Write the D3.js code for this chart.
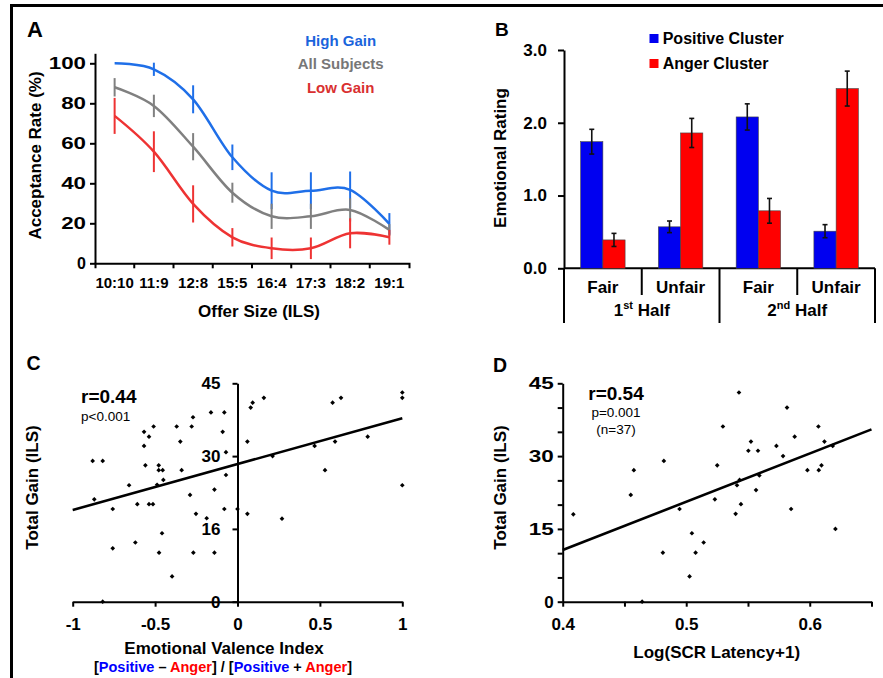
<!DOCTYPE html>
<html>
<head>
<meta charset="utf-8">
<script src="https://cdn.jsdelivr.net/npm/d3@7"></script>
<style>
body { margin: 0; background: #fff; }
svg text { font-family: "Liberation Sans", Arial, sans-serif; font-weight: bold; fill: #000; }
</style>
</head>
<body>
<div id="chart"></div>
<script>
// ---- panel A: acceptance rate by offer
var offers = ["10:10", "11:9", "12:8", "15:5", "16:4", "17:3", "18:2", "19:1"];
var highGain = [100, 97, 82, 53, 36.3, 36.3, 36.7, 19.7],
    highErr  = [0, 3.3, 7, 6.4, 9.2, 9.2, 9.2, 5.4];
var allSubj  = [88, 78.7, 58.3, 35.3, 23.5, 23.5, 26.7, 16.7],
    allErr   = [4.6, 5.6, 6.8, 5, 6.3, 6.3, 5.8, 2.9];
var lowGain  = [73.7, 55.8, 29.7, 13, 7.5, 7.5, 15, 13],
    lowErr   = [9, 10.2, 9.3, 4.6, 5.4, 5.4, 7.5, 3.7];
var seriesNames = ["High Gain", "All Subjects", "Low Gain"];

// ---- panel B: emotional ratings
var conditions = ["Fair", "Unfair", "Fair", "Unfair"];
var halves = [["1", "st"], ["2", "nd"]];
var positive = [1.74, 0.57, 2.08, 0.51],
    positiveErr = [0.17, 0.08, 0.18, 0.09];
var anger = [0.39, 1.86, 0.79, 2.47],
    angerErr = [0.09, 0.2, 0.17, 0.24];
var clusterNames = ["Positive Cluster", "Anger Cluster"];

// ---- panel C: valence index vs total gain
var valenceX = [-0.879, -0.818, -0.869, -0.757, -0.757, -0.818, -0.658, -0.608, -0.62, -0.567,
    -0.567, -0.559, -0.537, -0.537, -0.513, -0.509, -0.478, -0.478, -0.454, -0.488,
    -0.45, -0.458, -0.476, -0.397, -0.369, -0.347, -0.339, -0.278, -0.27, -0.288,
    -0.252, -0.268, -0.161, -0.187, -0.14, -0.14, -0.09, -0.08, -0.08, -0.07,
    -0.07, 0, 0.06, 0.06, 0.08, 0.092, 0.16, 0.213, 0.27, 0.468,
    0.531, 0.577, 0.592, 0.628, 0.79, 1, 1, 1];
var valenceY = [29, 29, 21.1, 19.1, 11, 0, 24, 20.1, 12.2, 35,
    32.1, 28.1, 34, 20.1, 20.1, 36.1, 28.1, 27.1, 27.1, 24.1,
    25.1, 14.1, 10.1, 5.2, 36.1, 33, 27.1, 36.1, 38, 22,
    18.1, 10.1, 39, 17.2, 23.1, 10.1, 35, 39, 19.1, 26.1,
    30.8, 19.1, 33, 18.1, 40, 41, 42, 30, 17.1, 32.1,
    27.1, 41, 33, 42, 34, 43.1, 42, 24];
var fitC = [[-1, 18.9], [1, 37.8]];

// ---- panel D: SCR latency vs total gain
var latencyX = [0.4086, 0.4551, 0.4576, 0.4643, 0.4811, 0.4819, 0.4946, 0.5027, 0.5046, 0.5076,
    0.5141, 0.5232, 0.5251, 0.5297, 0.54, 0.5411, 0.5427, 0.5432, 0.5443, 0.5503,
    0.5524, 0.5565, 0.5581, 0.5592, 0.573, 0.5784, 0.5816, 0.5849, 0.5878, 0.5981,
    0.607, 0.6073, 0.6095, 0.6119, 0.6186, 0.6208];
var latencyY = [18, 22, 27.1, 0, 10.1, 29, 19.1, 5.2, 14.1, 10.1,
    12.2, 21.1, 28.1, 36.1, 18.1, 24, 43.1, 25.1, 20.1, 31.1,
    33, 23, 31.1, 26, 32.1, 30, 40, 19.1, 34, 27.1,
    36.1, 27.1, 28.1, 33, 32.1, 15];
var fitD = [[0.4, 10.65], [0.65, 35.5]];

var blue = "#1f6fe8", gray = "#808080", red = "#ee3333";

var svg = d3.select("#chart").append("svg")
    .attr("width", 883)
    .attr("height", 678);

// frame lines
svg.append("line").attr("x1", 10).attr("x2", 883).attr("y1", 5.5).attr("y2", 5.5)
    .attr("stroke", "#000").attr("stroke-width", 3);
svg.append("line").attr("x1", 11.5).attr("x2", 11.5).attr("y1", 4).attr("y2", 678)
    .attr("stroke", "#000").attr("stroke-width", 3);

function styleAxis(g, size) {
    g.selectAll("path, line").attr("stroke", "#000").attr("stroke-width", 2);
    g.selectAll("text").attr("font-size", size).attr("fill", "#000");
    return g;
}

// the y tick numbers in the source are drawn wide
function widenLabels(g, perChar) {
    g.selectAll(".tick text").each(function() {
        var n = this.textContent.length;
        if (n > 1) d3.select(this).attr("textLength", n * perChar).attr("lengthAdjust", "spacingAndGlyphs");
    });
}

function panelLabel(txt, x, y, size) {
    svg.append("text").attr("x", x).attr("y", y).attr("font-size", size).text(txt);
}

function yTitle(txt, x, y, size) {
    svg.append("text")
        .attr("transform", "translate(" + x + "," + y + ") rotate(-90)")
        .attr("text-anchor", "middle")
        .attr("font-size", size)
        .text(txt);
}

/* ================= A ================= */
var xA = d3.scaleBand().domain(offers).range([95, 409]),
    yA = d3.scaleLinear().domain([0, 105]).range([263.3, 53.3]);

var axAy = styleAxis(svg.append("g")
    .attr("transform", "translate(95,0)")
    .call(d3.axisLeft(yA).tickValues(d3.range(0, 101, 20)).tickSize(5).tickSizeOuter(0).tickPadding(4)), 16);
widenLabels(axAy, 12.4);

var axA = svg.append("g")
    .attr("transform", "translate(0," + yA(0) + ")")
    .call(d3.axisBottom(xA).tickSizeInner(0).tickSizeOuter(5));
axA.selectAll(".tick text").attr("y", 25).attr("dy", null);
axA.selectAll(".edge").data(offers.slice(1)).enter().append("line")
    .attr("x1", function(d) { return xA(d); })
    .attr("x2", function(d) { return xA(d); })
    .attr("y1", 0).attr("y2", 5);
styleAxis(axA, 15);

var lineA = d3.line()
    .x(function(d, i) { return xA(offers[i]) + xA.bandwidth() / 2; })
    .y(function(d) { return yA(d); })
    .curve(d3.curveCardinal.tension(0));

[[highGain, highErr, blue], [allSubj, allErr, gray], [lowGain, lowErr, red]].forEach(function(s) {
    svg.append("path")
        .attr("d", lineA(s[0]))
        .attr("fill", "none")
        .attr("stroke", s[2])
        .attr("stroke-width", 2.5);
    svg.selectAll(null).data(s[0]).enter().append("line")
        .attr("x1", function(d, i) { return xA(offers[i]) + xA.bandwidth() / 2; })
        .attr("x2", function(d, i) { return xA(offers[i]) + xA.bandwidth() / 2; })
        .attr("y1", function(d, i) { return yA(d + s[1][i]); })
        .attr("y2", function(d, i) { return yA(d - s[1][i]); })
        .attr("stroke", s[2])
        .attr("stroke-width", 2);
});

svg.selectAll(".legA").data(seriesNames).enter().append("text")
    .attr("x", 340.7)
    .attr("y", function(d, i) { return 45.5 + i * 23.5; })
    .attr("text-anchor", "middle")
    .attr("font-size", 15)
    .style("fill", function(d, i) { return ["#1a64dc", "#777", "#d93030"][i]; })
    .text(function(d) { return d; });

panelLabel("A", 27, 37, 22);
yTitle("Acceptance Rate (%)", 41, 155.5, 17);
svg.append("text").attr("x", 259).attr("y", 316.5).attr("text-anchor", "middle")
    .attr("font-size", 17).text("Offer Size (ILS)");

/* ================= B ================= */
var x0B = d3.scaleBand().domain(d3.range(4)).range([564, 875]),
    x1B = d3.scaleBand().domain([0, 1]).range([0, x0B.bandwidth()]).paddingOuter(0.75),
    yB = d3.scaleLinear().domain([0, 3]).range([268.3, 50]);

styleAxis(svg.append("g")
    .attr("transform", "translate(564,0)")
    .call(d3.axisLeft(yB).tickValues([0, 1, 2, 3]).tickFormat(d3.format(".1f"))
        .tickSize(6).tickSizeOuter(0).tickPadding(11)), 17);

// baseline and group separators
svg.append("line").attr("x1", 564).attr("x2", 875).attr("y1", yB(0)).attr("y2", yB(0))
    .attr("stroke", "#000").attr("stroke-width", 2);
svg.selectAll(".sep").data(d3.range(5)).enter().append("line")
    .attr("x1", function(d) { return 564 + d * x0B.bandwidth(); })
    .attr("x2", function(d) { return 564 + d * x0B.bandwidth(); })
    .attr("y1", yB(0))
    .attr("y2", function(d) { return d % 2 === 0 ? 323 : 295; })
    .attr("stroke", "#000").attr("stroke-width", 2);

[[positive, positiveErr, "#0000f0"], [anger, angerErr, "#ff0000"]].forEach(function(s, k) {
    svg.selectAll(null).data(s[0]).enter().append("rect")
        .attr("x", function(d, i) { return x0B(i) + x1B(k); })
        .attr("y", function(d) { return yB(d); })
        .attr("width", x1B.bandwidth())
        .attr("height", function(d) { return yB(0) - yB(d); })
        .attr("fill", s[2])
        .attr("stroke", "#444")
        .attr("stroke-width", 0.6);
    var cx = function(d, i) { return x0B(i) + x1B(k) + x1B.bandwidth() / 2; };
    var eb = svg.selectAll(null).data(s[0]).enter().append("g")
        .attr("stroke", "#111").attr("stroke-width", 1.6);
    eb.append("line").attr("x1", cx).attr("x2", cx)
        .attr("y1", function(d, i) { return yB(d + s[1][i]); })
        .attr("y2", function(d, i) { return yB(d - s[1][i]); });
    [1, -1].forEach(function(sg) {
        eb.append("line")
            .attr("x1", function(d, i) { return cx(d, i) - 2.5; })
            .attr("x2", function(d, i) { return cx(d, i) + 2.5; })
            .attr("y1", function(d, i) { return yB(d + sg * s[1][i]); })
            .attr("y2", function(d, i) { return yB(d + sg * s[1][i]); });
    });
});

svg.selectAll(".cond").data(conditions).enter().append("text")
    .attr("x", function(d, i) { return x0B(i) + x0B.bandwidth() / 2; })
    .attr("y", 292.7)
    .attr("text-anchor", "middle")
    .attr("font-size", 17)
    .text(function(d) { return d; });
halves.forEach(function(h, i) {
    var t = svg.append("text")
        .attr("x", x0B(i * 2) + x0B.bandwidth())
        .attr("y", 316)
        .attr("text-anchor", "middle")
        .attr("font-size", 17);
    t.append("tspan").text(h[0]);
    t.append("tspan").attr("font-size", 11).attr("dy", -7).text(h[1]);
    t.append("tspan").attr("dy", 7).text(" Half");
});

svg.selectAll(".legB").data(clusterNames).enter().append("rect")
    .attr("x", 649.5)
    .attr("y", function(d, i) { return 34 + i * 25; })
    .attr("width", 9).attr("height", 9)
    .attr("fill", function(d, i) { return i ? "#ff0000" : "#0000f0"; });
svg.selectAll(".legBt").data(clusterNames).enter().append("text")
    .attr("x", 662.7)
    .attr("y", function(d, i) { return 44.3 + i * 24.5; })
    .attr("font-size", 16)
    .text(function(d) { return d; });

panelLabel("B", 495, 35.5, 19);
yTitle("Emotional Rating", 505.5, 158, 17);

/* ================= C ================= */
var xC = d3.scaleLinear().domain([-1, 1]).range([72.7, 402.3]),
    yC = d3.scaleLinear().domain([0, 45]).range([601.7, 383.3]);

var axCx = styleAxis(svg.append("g")
    .attr("transform", "translate(0," + yC(0) + ")")
    .call(d3.axisBottom(xC).tickValues([-1, -0.5, 0, 0.5, 1]).tickFormat(function(d) { return String(d); })
        .tickSize(5).tickSizeOuter(0)), 17);
axCx.selectAll(".tick text").attr("y", 28).attr("dy", null);

var axCy = styleAxis(svg.append("g")
    .attr("transform", "translate(" + xC(0) + ",0)")
    .call(d3.axisLeft(yC).tickValues([0, 15, 30, 45])
        .tickFormat(function(d) { return d === 15 ? "16" : String(d); })
        .tickSize(5).tickSizeOuter(0)), 17);
axCy.selectAll(".tick text").attr("x", -17);

var diamond = d3.symbol().type(d3.symbolSquare).size(11);
svg.selectAll(".ptC").data(valenceX).enter().append("path")
    .attr("d", diamond)
    .attr("transform", function(d, i) { return "translate(" + xC(d) + "," + yC(valenceY[i]) + ") rotate(45)"; })
    .attr("fill", "#000");

svg.append("line")
    .attr("x1", xC(fitC[0][0])).attr("y1", yC(fitC[0][1]))
    .attr("x2", xC(fitC[1][0])).attr("y2", yC(fitC[1][1]))
    .attr("stroke", "#000").attr("stroke-width", 2.6);

svg.append("text").attr("x", 81).attr("y", 403).attr("font-size", 19).text("r=0.44");
svg.append("text").attr("x", 81).attr("y", 421).attr("font-size", 13.5)
    .style("font-weight", "normal").text("p<0.001");

panelLabel("C", 26.5, 370, 19.5);
yTitle("Total Gain (ILS)", 37.5, 487.5, 17);
svg.append("text").attr("x", 224).attr("y", 654).attr("text-anchor", "middle")
    .attr("font-size", 17).text("Emotional Valence Index");

var sub = svg.append("text").attr("x", 223).attr("y", 671.5).attr("text-anchor", "middle")
    .attr("font-size", 14.5);
[["[", "#000"], ["Positive", "#0000ff"], [" \u2013 ", "#000"], ["Anger", "#ff0000"], ["] / [", "#000"],
 ["Positive", "#0000ff"], [" + ", "#000"], ["Anger", "#ff0000"], ["]", "#000"]].forEach(function(p) {
    sub.append("tspan").style("fill", p[1]).text(p[0]);
});

/* ================= D ================= */
var xD = d3.scaleLinear().domain([0.4, 0.65]).range([562.7, 871.5]),
    yD = d3.scaleLinear().domain([0, 45]).range([601.7, 383.3]);

var axDx = styleAxis(svg.append("g")
    .attr("transform", "translate(0," + yD(0) + ")")
    .call(d3.axisBottom(xD).tickValues([0.4, 0.45, 0.5, 0.55, 0.6, 0.65])
        .tickFormat(function(d) { return Math.round(d * 100) % 10 === 0 ? d.toFixed(1) : ""; })
        .tickSize(5).tickSizeOuter(0)), 17);
axDx.selectAll(".tick text").attr("y", 28).attr("dy", null);

var axDy = styleAxis(svg.append("g")
    .attr("transform", "translate(" + xD(0.4) + ",0)")
    .call(d3.axisLeft(yD).tickValues(d3.range(0, 46, 5))
        .tickFormat(function(d) { return d % 15 === 0 ? String(d) : ""; })
        .tickSize(5).tickSizeOuter(0).tickPadding(4)), 17);
widenLabels(axDy, 12.5);

svg.selectAll(".ptD").data(latencyX).enter().append("path")
    .attr("d", diamond)
    .attr("transform", function(d, i) { return "translate(" + xD(d) + "," + yD(latencyY[i]) + ") rotate(45)"; })
    .attr("fill", "#000");

svg.append("line")
    .attr("x1", xD(fitD[0][0])).attr("y1", yD(fitD[0][1]))
    .attr("x2", xD(fitD[1][0])).attr("y2", yD(fitD[1][1]))
    .attr("stroke", "#000").attr("stroke-width", 2.6);

svg.append("text").attr("x", 616).attr("y", 400).attr("text-anchor", "middle")
    .attr("font-size", 19).text("r=0.54");
svg.append("text").attr("x", 616).attr("y", 417).attr("text-anchor", "middle")
    .attr("font-size", 13.5).style("font-weight", "normal").text("p=0.001");
svg.append("text").attr("x", 616).attr("y", 434).attr("text-anchor", "middle")
    .attr("font-size", 13.5).style("font-weight", "normal").text("(n=37)");

panelLabel("D", 493, 371.5, 19.5);
yTitle("Total Gain (ILS)", 505.5, 487.5, 17);
svg.append("text").attr("x", 716.7).attr("y", 657.5).attr("text-anchor", "middle")
    .attr("font-size", 17).text("Log(SCR Latency+1)");
</script>
</body>
</html>
